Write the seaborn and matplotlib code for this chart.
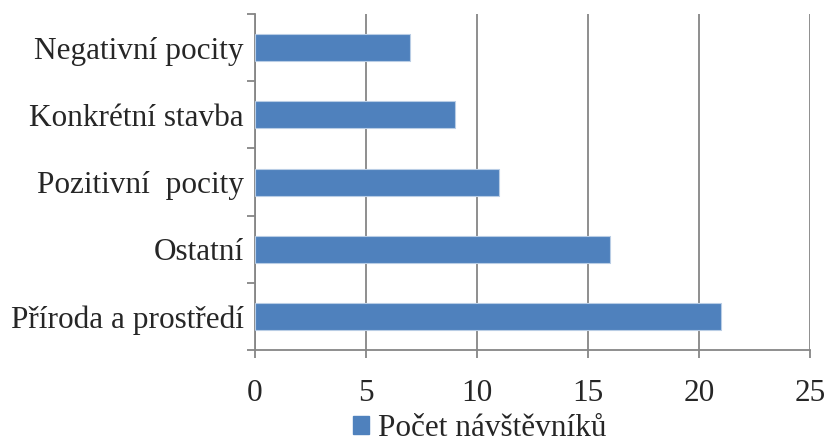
import pandas as pd
import matplotlib.pyplot as plt
import seaborn as sns
from matplotlib.patches import Patch

categories = ['Negativní pocity', 'Konkrétní stavba', 'Pozitivní  pocity', 'Ostatní', 'Příroda a prostředí']
visitors = [7, 9, 11, 16, 21]
series_name = 'Počet návštěvníků'

df = pd.DataFrame({'kategorie': categories, 'pocet': visitors})

sns.set_style('white')
plt.rcParams['font.family'] = ['Liberation Serif', 'DejaVu Serif']

fig = plt.figure(figsize=(8.25, 4.43), dpi=100)
ax = fig.add_axes([0.309, 0.21, 0.673, 0.758])

bar_color = '#4F81BD'
sns.barplot(data=df, x='pocet', y='kategorie', orient='h', color=bar_color,
            width=0.4, edgecolor='#B9CDE5', linewidth=0.8, saturation=1, ax=ax, zorder=3)

grid_color = '#868686'
ax.set_xlim(0, 25)
ax.set_xticks(range(0, 26, 5))
ax.set_ylim(len(categories) - 0.5, -0.5)
ax.xaxis.grid(True, color=grid_color, linewidth=1.3, zorder=0)
ax.yaxis.grid(False)
ax.set_xlabel('')
ax.set_ylabel('')

for side in ['top', 'right']:
    ax.spines[side].set_visible(False)
for side in ['left', 'bottom']:
    ax.spines[side].set_color(grid_color)
    ax.spines[side].set_linewidth(1.3)

fs = 22.5
ax.set_yticks([i - 0.5 for i in range(len(categories) + 1)], minor=True)
ax.tick_params(axis='y', which='major', length=0, pad=8, labelsize=fs)
ax.tick_params(axis='y', which='minor', length=6, width=1.3, color=grid_color, left=True)
ax.tick_params(axis='x', length=6, width=1.3, color=grid_color, bottom=True,
               labelsize=fs, pad=15)

ax.legend(handles=[Patch(color=bar_color, label=series_name)], loc='upper center',
          bbox_to_anchor=(0.405, -0.19), frameon=False, fontsize=fs,
          handlelength=0.5, handleheight=0.5, handletextpad=0.3,
          borderaxespad=0, borderpad=0)

fig.savefig('out.png', dpi=100)
